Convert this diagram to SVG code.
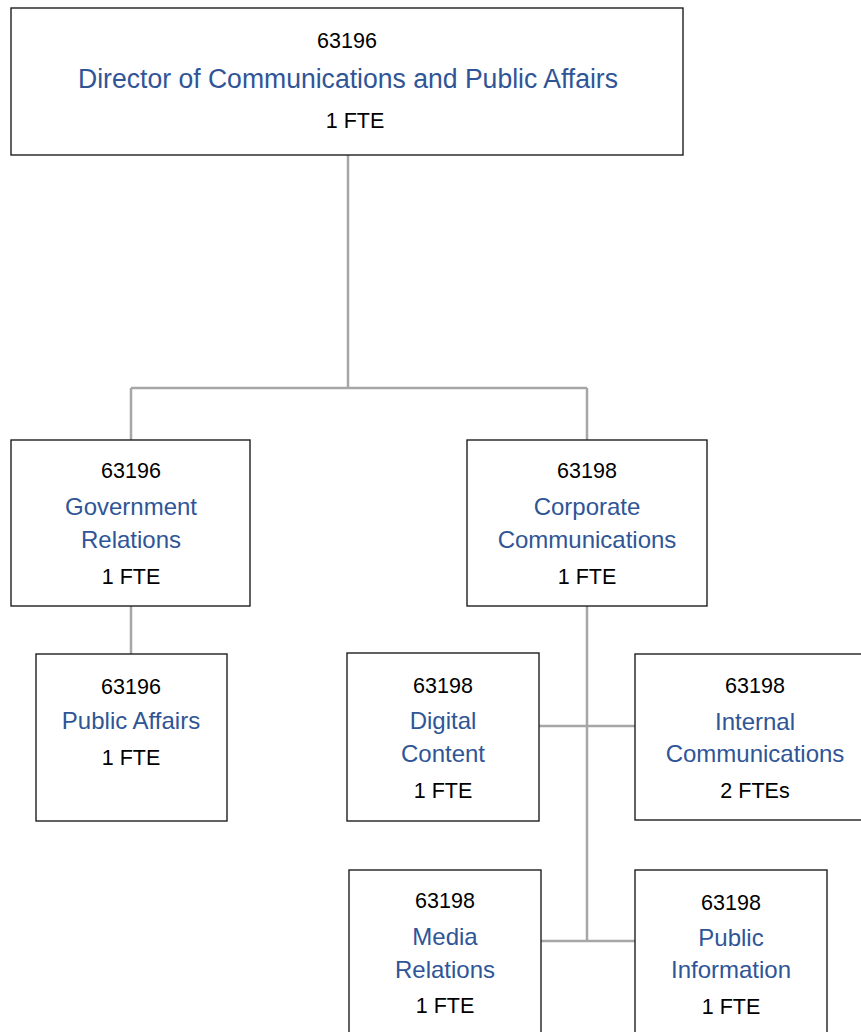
<svg xmlns="http://www.w3.org/2000/svg" width="861" height="1032" viewBox="0 0 861 1032">
  <style>
    .box { fill: #ffffff; stroke: #1f1f1f; stroke-width: 1.4; }
    .link { fill: none; stroke: #a6a6a6; stroke-width: 2.5; }
    .code, .fte { font-family: "Liberation Sans", Arial, sans-serif; font-size: 21.5px; fill: #000000; text-anchor: middle; }
    .role { font-family: "Liberation Sans", Arial, sans-serif; font-size: 24px; fill: #2f5597; text-anchor: middle; }
    .title { font-family: "Liberation Sans", Arial, sans-serif; font-size: 27px; fill: #2f5597; text-anchor: middle; }
  </style>
  <rect x="0" y="0" width="861" height="1032" fill="#ffffff"/>

  <!-- reporting lines -->
  <g id="connectors">
    <path class="link" d="M348,155 V388 M131,388 H587 M131,388 V440 M587,388 V440"/>
    <path class="link" d="M131,606 V654"/>
    <path class="link" d="M587,606 V941 M539,726 H635 M541,941 H635"/>
  </g>

  <g id="director">
    <rect class="box" x="11" y="8" width="672" height="147"/>
    <text class="code" x="347" y="48">63196</text>
    <text class="title" x="348" y="88" textLength="540" lengthAdjust="spacingAndGlyphs">Director of Communications and Public Affairs</text>
    <text class="fte" x="355" y="128">1 FTE</text>
  </g>

  <g id="government-relations">
    <rect class="box" x="11" y="440" width="239" height="166"/>
    <text class="code" x="131" y="478">63196</text>
    <text class="role" x="131" y="515">Government</text>
    <text class="role" x="131" y="548">Relations</text>
    <text class="fte" x="131" y="584">1 FTE</text>
  </g>

  <g id="corporate-communications">
    <rect class="box" x="467" y="440" width="240" height="166"/>
    <text class="code" x="587" y="478">63198</text>
    <text class="role" x="587" y="515">Corporate</text>
    <text class="role" x="587" y="548">Communications</text>
    <text class="fte" x="587" y="584">1 FTE</text>
  </g>

  <g id="public-affairs">
    <rect class="box" x="36" y="654" width="191" height="167"/>
    <text class="code" x="131" y="694">63196</text>
    <text class="role" x="131" y="729">Public Affairs</text>
    <text class="fte" x="131" y="765">1 FTE</text>
  </g>

  <g id="digital-content">
    <rect class="box" x="347" y="653" width="192" height="168"/>
    <text class="code" x="443" y="693">63198</text>
    <text class="role" x="443" y="729">Digital</text>
    <text class="role" x="443" y="762">Content</text>
    <text class="fte" x="443" y="798">1 FTE</text>
  </g>

  <g id="internal-communications">
    <rect class="box" x="635" y="654" width="240" height="166"/>
    <text class="code" x="755" y="693">63198</text>
    <text class="role" x="755" y="730">Internal</text>
    <text class="role" x="755" y="762">Communications</text>
    <text class="fte" x="755" y="798">2 FTEs</text>
  </g>

  <g id="media-relations">
    <rect class="box" x="349" y="870" width="192" height="172"/>
    <text class="code" x="445" y="908">63198</text>
    <text class="role" x="445" y="945">Media</text>
    <text class="role" x="445" y="978">Relations</text>
    <text class="fte" x="445" y="1013">1 FTE</text>
  </g>

  <g id="public-information">
    <rect class="box" x="635" y="870" width="192" height="172"/>
    <text class="code" x="731" y="910">63198</text>
    <text class="role" x="731" y="946">Public</text>
    <text class="role" x="731" y="978">Information</text>
    <text class="fte" x="731" y="1014">1 FTE</text>
  </g>
</svg>
